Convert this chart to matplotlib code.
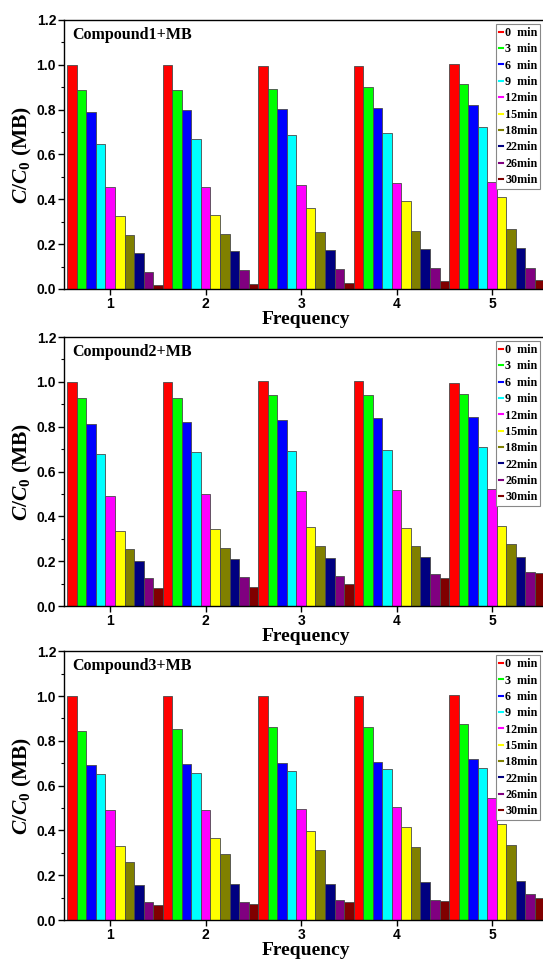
import matplotlib
matplotlib.use("Agg")
import matplotlib.pyplot as plt
from matplotlib.lines import Line2D
from matplotlib.ticker import MultipleLocator
import numpy as np

plt.rcParams["mathtext.fontset"] = "custom"
plt.rcParams["mathtext.it"] = "Liberation Serif:italic:bold"
plt.rcParams["mathtext.rm"] = "Liberation Serif:bold"
plt.rcParams["mathtext.bf"] = "Liberation Serif:bold"

cycles = [1, 2, 3, 4, 5]
times = ["0  min", "3  min", "6  min", "9  min", "12min",
         "15min", "18min", "22min", "26min", "30min"]
colors = ["#FF0000", "#00FF00", "#0000FF", "#00FFFF", "#FF00FF",
          "#FFFF00", "#808000", "#000080", "#800080", "#800000"]

# C/C0 per cycle (rows) and irradiation time (columns)
compound1 = [
    [1.000, 0.888, 0.791, 0.647, 0.454, 0.324, 0.242, 0.162, 0.076, 0.019],
    [1.000, 0.889, 0.800, 0.668, 0.456, 0.329, 0.247, 0.168, 0.083, 0.024],
    [0.996, 0.892, 0.804, 0.688, 0.464, 0.360, 0.253, 0.172, 0.088, 0.027],
    [0.995, 0.900, 0.809, 0.694, 0.471, 0.391, 0.257, 0.178, 0.092, 0.036],
    [1.005, 0.916, 0.822, 0.723, 0.479, 0.410, 0.269, 0.183, 0.095, 0.042],
]
compound2 = [
    [1.000, 0.928, 0.810, 0.680, 0.493, 0.336, 0.253, 0.202, 0.127, 0.079],
    [0.999, 0.930, 0.819, 0.685, 0.500, 0.342, 0.260, 0.210, 0.131, 0.086],
    [1.003, 0.940, 0.829, 0.692, 0.515, 0.351, 0.266, 0.216, 0.135, 0.098],
    [1.002, 0.941, 0.837, 0.698, 0.518, 0.350, 0.269, 0.217, 0.143, 0.127],
    [0.996, 0.944, 0.843, 0.709, 0.523, 0.356, 0.277, 0.220, 0.153, 0.149],
]
compound3 = [
    [1.002, 0.844, 0.691, 0.651, 0.490, 0.332, 0.260, 0.155, 0.079, 0.067],
    [1.000, 0.855, 0.695, 0.658, 0.493, 0.366, 0.296, 0.161, 0.082, 0.074],
    [1.000, 0.862, 0.701, 0.664, 0.494, 0.396, 0.313, 0.162, 0.089, 0.079],
    [1.000, 0.863, 0.704, 0.673, 0.503, 0.414, 0.325, 0.171, 0.092, 0.085],
    [1.006, 0.875, 0.718, 0.680, 0.546, 0.427, 0.335, 0.176, 0.115, 0.101],
]
panels = [("Compound1+MB", compound1),
          ("Compound2+MB", compound2),
          ("Compound3+MB", compound3)]

serif = "Liberation Serif"
sans = "Liberation Sans"

fig = plt.figure(figsize=(5.43, 9.6), dpi=100)
bottoms = [0.699, 0.3687, 0.0415]
bar_w = 0.1

for (title, data), b in zip(panels, bottoms):
    ax = fig.add_axes([0.1186, b, 0.8895, 0.2802])
    arr = np.array(data)
    x = np.array(cycles, dtype=float)
    for j in range(len(times)):
        ax.bar(x + (j - 4) * bar_w, arr[:, j], width=bar_w,
               color=colors[j], edgecolor="#4a4a4a", linewidth=0.6,
               zorder=2)
    ax.set_xlim(0.52, 5.58)
    ax.set_ylim(0, 1.2)
    ax.yaxis.set_minor_locator(MultipleLocator(0.1))
    ax.set_xticks(cycles)
    ax.set_xticklabels([str(c) for c in cycles], fontfamily=sans,
                       fontweight="bold", fontsize=10)
    yt = np.round(np.arange(0, 1.21, 0.2), 1)
    ax.set_yticks(yt)
    ax.set_yticklabels([f"{v:.1f}" for v in yt], fontfamily=sans,
                       fontweight="bold", fontsize=10)
    ax.tick_params(axis="both", which="major", direction="out", length=4,
                   width=1.0, pad=2)
    ax.tick_params(axis="y", which="minor", direction="out", length=2.5,
                   width=0.8)
    ax.tick_params(top=False, right=False)
    for s in ax.spines.values():
        s.set_linewidth(1.0)
    ax.set_xlabel("Frequency", fontfamily=serif, fontweight="bold",
                  fontsize=14, labelpad=0)
    ax.set_ylabel(r"$C/C_0$ (MB)", fontfamily=serif, fontweight="bold",
                  fontsize=15.5, labelpad=2)
    ax.text(0.016, 0.975, title, transform=ax.transAxes, ha="left", va="top",
            fontfamily=serif, fontweight="bold", fontsize=11.5)
    handles = [Line2D([0], [0], color=c, lw=1.5) for c in colors]
    leg = ax.legend(handles, times, loc="upper left",
                    bbox_to_anchor=(0.8936, 0.985),
                    prop={"family": serif, "weight": "bold", "size": 8.7},
                    handlelength=0.3, handletextpad=0.2,
                    labelspacing=0.36, borderpad=0.25, borderaxespad=0,
                    fancybox=False, framealpha=1, edgecolor="#888888")
    leg.get_frame().set_linewidth(0.8)

fig.savefig("out.png", dpi=100)
